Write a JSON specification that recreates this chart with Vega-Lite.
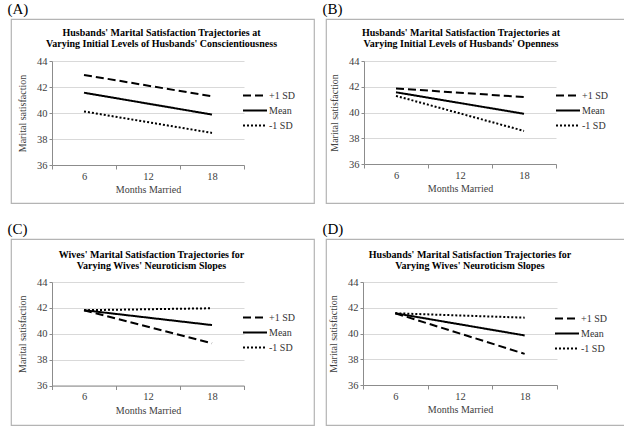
{
  "$schema": "https://vega.github.io/schema/vega-lite/v6.json",
  "description": "Four panels of marital satisfaction trajectories",
  "padding": {"left": 7, "top": 2, "right": 0, "bottom": 0},
  "spacing": 18,
  "datasets": {
    "a": [
      {"month": "6", "level": "+1 SD", "score": 42.93},
      {"month": "18", "level": "+1 SD", "score": 41.28},
      {"month": "6", "level": "Mean", "score": 41.56},
      {"month": "18", "level": "Mean", "score": 39.88},
      {"month": "6", "level": "-1 SD", "score": 40.12},
      {"month": "18", "level": "-1 SD", "score": 38.47}
    ],
    "b": [
      {"month": "6", "level": "+1 SD", "score": 41.87},
      {"month": "18", "level": "+1 SD", "score": 41.2},
      {"month": "6", "level": "Mean", "score": 41.57},
      {"month": "18", "level": "Mean", "score": 39.9},
      {"month": "6", "level": "-1 SD", "score": 41.29},
      {"month": "18", "level": "-1 SD", "score": 38.57}
    ],
    "c": [
      {"month": "6", "level": "+1 SD", "score": 41.82},
      {"month": "18", "level": "+1 SD", "score": 39.26},
      {"month": "6", "level": "Mean", "score": 41.82},
      {"month": "18", "level": "Mean", "score": 40.67},
      {"month": "6", "level": "-1 SD", "score": 41.82},
      {"month": "18", "level": "-1 SD", "score": 41.97}
    ],
    "d": [
      {"month": "6", "level": "+1 SD", "score": 41.57},
      {"month": "18", "level": "+1 SD", "score": 38.42},
      {"month": "6", "level": "Mean", "score": 41.57},
      {"month": "18", "level": "Mean", "score": 39.85},
      {"month": "6", "level": "-1 SD", "score": 41.57},
      {"month": "18", "level": "-1 SD", "score": 41.23}
    ]
  },
  "vconcat": [
    {
      "spacing": 7,
      "hconcat": [
        {
          "title": {"text": "(A)", "anchor": "start", "dx": -3, "offset": 1},
          "vconcat": [
            {
              "width": 303,
              "height": 184,
              "data": {"name": "a"},
              "title": {"text": ["Husbands' Marital Satisfaction Trajectories at", "Varying Initial Levels of  Husbands' Conscientiousness"], "offset": -30, "dx": -1, "frame": "group", "fontSize": 10, "fontWeight": "bold", "lineHeight": 11.5},
              "mark": {"type": "line", "color": "black", "strokeWidth": 2},
              "encoding": {
                "x": {"field": "month", "type": "ordinal", "sort": ["6", "12", "18"],
                  "scale": {"type": "band", "domain": ["6", "12", "18"], "range": [41, 233], "paddingInner": 0, "paddingOuter": 0},
                  "axis": {"title": "Months Married", "offset": -38}},
                "y": {"field": "score", "type": "quantitative",
                  "scale": {"domain": [36, 44], "range": [146, 42], "zero": false, "nice": false},
                  "axis": {"title": "Marital satisfaction", "offset": -41}},
                "strokeDash": {"field": "level", "type": "nominal",
                  "scale": {"domain": ["+1 SD", "Mean", "-1 SD"], "range": [[8, 4], [1, 0], [2, 2]]},
                  "legend": {"legendX": 231, "legendY": 70}}
              }
            }
          ],
          "resolve": {"scale": {"x": "independent", "y": "independent", "strokeDash": "independent"}, "legend": {"strokeDash": "independent"}}
        },
        {
          "title": {"text": "(B)", "anchor": "start", "dx": -3, "offset": 1},
          "vconcat": [
            {
              "width": 300,
              "height": 184,
              "data": {"name": "b"},
              "title": {"text": ["Husbands' Marital Satisfaction Trajectories at", "Varying Initial Levels of  Husbands' Openness"], "offset": -30, "dx": -15, "frame": "group", "fontSize": 10, "fontWeight": "bold", "lineHeight": 11.5},
              "mark": {"type": "line", "color": "black", "strokeWidth": 2},
              "encoding": {
                "x": {"field": "month", "type": "ordinal", "sort": ["6", "12", "18"],
                  "scale": {"type": "band", "domain": ["6", "12", "18"], "range": [38, 230], "paddingInner": 0, "paddingOuter": 0},
                  "axis": {"title": "Months Married", "offset": -39}},
                "y": {"field": "score", "type": "quantitative",
                  "scale": {"domain": [36, 44], "range": [145, 42], "zero": false, "nice": false},
                  "axis": {"title": "Marital satisfaction", "offset": -38}},
                "strokeDash": {"field": "level", "type": "nominal",
                  "scale": {"domain": ["+1 SD", "Mean", "-1 SD"], "range": [[8, 4], [1, 0], [2, 2]]},
                  "legend": {"legendX": 229, "legendY": 70}}
              }
            }
          ],
          "resolve": {"scale": {"x": "independent", "y": "independent", "strokeDash": "independent"}, "legend": {"strokeDash": "independent"}}
        }
      ],
      "resolve": {"scale": {"x": "independent", "y": "independent", "strokeDash": "independent"}, "legend": {"strokeDash": "independent"}}
    },
    {
      "spacing": 7,
      "hconcat": [
        {
          "title": {"text": "(C)", "anchor": "start", "dx": -3, "offset": 1},
          "vconcat": [
            {
              "width": 303,
              "height": 186,
              "data": {"name": "c"},
              "title": {"text": ["Wives' Marital Satisfaction Trajectories  for", "Varying Wives' Neuroticism Slopes"], "offset": -32, "dx": -11, "frame": "group", "fontSize": 10, "fontWeight": "bold", "lineHeight": 11.5},
              "mark": {"type": "line", "color": "black", "strokeWidth": 2},
              "encoding": {
                "x": {"field": "month", "type": "ordinal", "sort": ["6", "12", "18"],
                  "scale": {"type": "band", "domain": ["6", "12", "18"], "range": [41, 233], "paddingInner": 0, "paddingOuter": 0},
                  "axis": {"title": "Months Married", "offset": -39.5}},
                "y": {"field": "score", "type": "quantitative",
                  "scale": {"domain": [36, 44], "range": [146.5, 43], "zero": false, "nice": false},
                  "axis": {"title": "Marital satisfaction", "offset": -41}},
                "strokeDash": {"field": "level", "type": "nominal",
                  "scale": {"domain": ["+1 SD", "Mean", "-1 SD"], "range": [[8, 4], [1, 0], [2, 2]]},
                  "legend": {"legendX": 231, "legendY": 72}}
              }
            }
          ],
          "resolve": {"scale": {"x": "independent", "y": "independent", "strokeDash": "independent"}, "legend": {"strokeDash": "independent"}}
        },
        {
          "title": {"text": "(D)", "anchor": "start", "dx": -3, "offset": 1},
          "vconcat": [
            {
              "width": 300,
              "height": 186,
              "data": {"name": "d"},
              "title": {"text": ["Husbands' Marital Satisfaction Trajectories  for", "Varying Wives' Neuroticism Slopes"], "offset": -32, "dx": -6, "frame": "group", "fontSize": 10, "fontWeight": "bold", "lineHeight": 11.5},
              "mark": {"type": "line", "color": "black", "strokeWidth": 2},
              "encoding": {
                "x": {"field": "month", "type": "ordinal", "sort": ["6", "12", "18"],
                  "scale": {"type": "band", "domain": ["6", "12", "18"], "range": [37, 231], "paddingInner": 0, "paddingOuter": 0},
                  "axis": {"title": "Months Married", "offset": -40}},
                "y": {"field": "score", "type": "quantitative",
                  "scale": {"domain": [36, 44], "range": [146, 43], "zero": false, "nice": false},
                  "axis": {"title": "Marital satisfaction", "offset": -37}},
                "strokeDash": {"field": "level", "type": "nominal",
                  "scale": {"domain": ["+1 SD", "Mean", "-1 SD"], "range": [[8, 4], [1, 0], [2, 2]]},
                  "legend": {"legendX": 228, "legendY": 73}}
              }
            }
          ],
          "resolve": {"scale": {"x": "independent", "y": "independent", "strokeDash": "independent"}, "legend": {"strokeDash": "independent"}}
        }
      ],
      "resolve": {"scale": {"x": "independent", "y": "independent", "strokeDash": "independent"}, "legend": {"strokeDash": "independent"}}
    }
  ],
  "resolve": {"scale": {"x": "independent", "y": "independent", "strokeDash": "independent"}, "legend": {"strokeDash": "independent"}},
  "config": {
    "font": "Liberation Serif",
    "view": {"stroke": "#b4b4b4", "strokeWidth": 1.2},
    "title": {"font": "Liberation Serif", "fontSize": 15, "fontWeight": "normal", "color": "black"},
    "axis": {
      "labelFont": "Liberation Serif", "labelFontSize": 10.5, "labelColor": "#404040",
      "titleFont": "Liberation Serif", "titleFontSize": 10, "titleFontWeight": "normal", "titleColor": "#404040",
      "domainColor": "#8c8c8c", "tickColor": "#8c8c8c", "gridColor": "#d9d9d9", "tickSize": 4
    },
    "axisX": {"labelAngle": 0, "tickBand": "extent", "grid": false, "labelPadding": 2, "titlePadding": 3},
    "axisY": {"values": [36, 38, 40, 42, 44], "grid": true, "tickSize": 3, "labelPadding": 2, "titlePadding": 9},
    "legend": {
      "orient": "none", "title": null, "symbolType": "stroke", "symbolSize": 576, "symbolStrokeWidth": 2,
      "symbolStrokeColor": "black", "labelFont": "Liberation Serif", "labelFontSize": 10, "labelColor": "#333333",
      "labelOffset": 1, "rowPadding": 2, "clipHeight": 13
    },
    "concat": {"spacing": 7}
  }
}
